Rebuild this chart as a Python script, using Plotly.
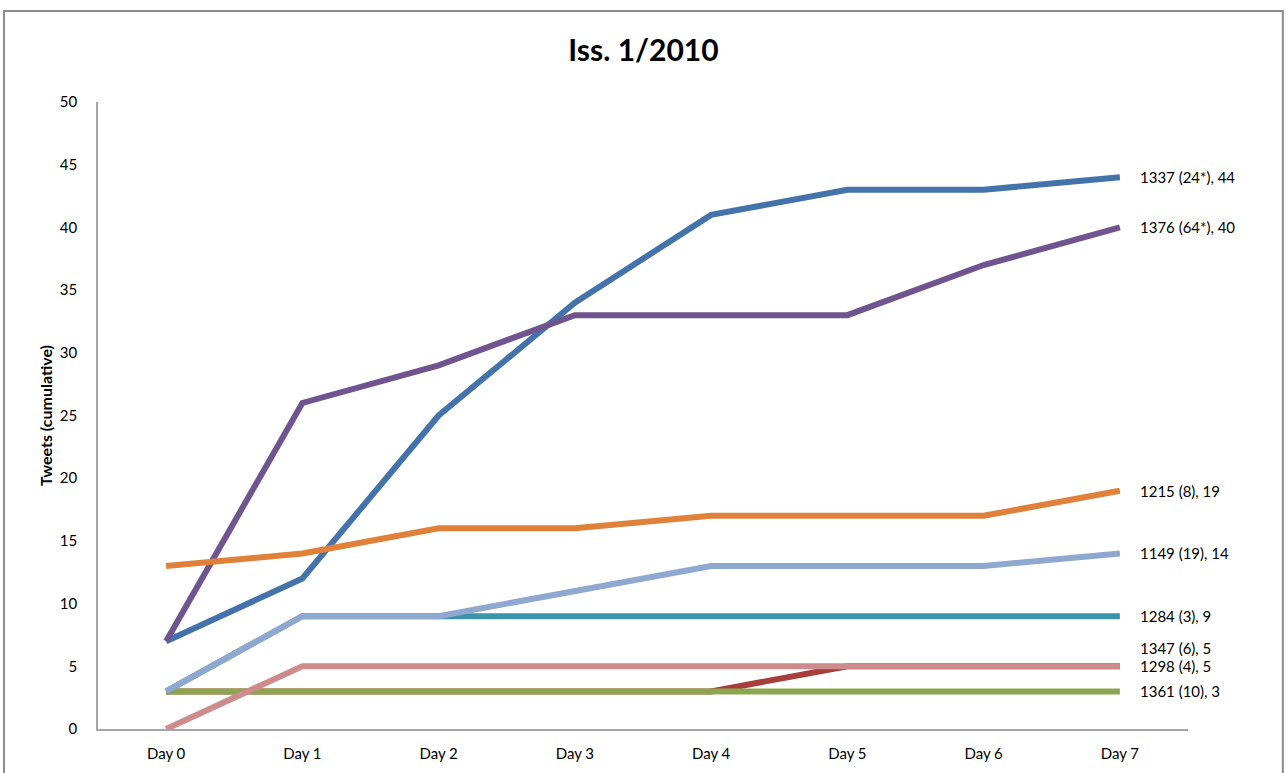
import plotly.graph_objects as go

# categories and series (cumulative tweets per day)
DAYS = ['Day 0', 'Day 1', 'Day 2', 'Day 3', 'Day 4', 'Day 5', 'Day 6', 'Day 7']

TWEETS_1337 = [7, 12, 25, 34, 41, 43, 43, 44]
TWEETS_1347 = [3, 3, 3, 3, 3, 5, 5, 5]
TWEETS_1361 = [3, 3, 3, 3, 3, 3, 3, 3]
TWEETS_1376 = [7, 26, 29, 33, 33, 33, 37, 40]
TWEETS_1284 = [3, 9, 9, 9, 9, 9, 9, 9]
TWEETS_1215 = [13, 14, 16, 16, 17, 17, 17, 19]
TWEETS_1149 = [3, 9, 9, 11, 13, 13, 13, 14]
TWEETS_1298 = [0, 5, 5, 5, 5, 5, 5, 5]

LABELS = ['1337 (24*), 44', '1347 (6), 5', '1361 (10), 3', '1376 (64*), 40',
          '1284 (3), 9', '1215 (8), 19', '1149 (19), 14', '1298 (4), 5']
SERIES = [TWEETS_1337, TWEETS_1347, TWEETS_1361, TWEETS_1376,
          TWEETS_1284, TWEETS_1215, TWEETS_1149, TWEETS_1298]
COLORS = ['#4472AA', '#A63E3B', '#8BA64C', '#70548F',
          '#3B94AA', '#E0813A', '#8FA8CF', '#CE8B8B']
# small vertical nudges (px) so the end labels don't collide
LABEL_SHIFT = [0, 18, 0, 0, 0, 0, 0, 0]

FONT = 'Lato, Open Sans, sans-serif'

fig = go.Figure()
for name, vals, col in zip(LABELS, SERIES, COLORS):
    fig.add_trace(go.Scatter(x=DAYS, y=vals, mode='lines', name=name,
                             line=dict(color=col, width=6),
                             showlegend=False))

# labels at the end of each line
for name, vals, shift in zip(LABELS, SERIES, LABEL_SHIFT):
    fig.add_annotation(x=DAYS[-1], y=vals[-1], text=name, showarrow=False,
                       xanchor='left', xshift=18, yshift=shift,
                       font=dict(size=15, color='black', family=FONT))

# outer chart border
fig.add_shape(type='rect', xref='paper', yref='paper',
              x0=-0.0862, x1=1.087, y0=-0.09, y1=1.145,
              line=dict(color='#8c8c8c', width=2))

fig.update_layout(
    width=1287, height=773,
    margin=dict(l=98, r=99, t=102, b=44),
    paper_bgcolor='white', plot_bgcolor='white',
    font=dict(family=FONT, size=14, color='black'),
    title=dict(text='<b>Iss. 1/2010</b>', x=0.5, xanchor='center',
               y=1 - 50 / 773, yanchor='middle',
               font=dict(size=30, family=FONT, color='black')),
    xaxis=dict(range=[-0.5, 7.5], showgrid=False, zeroline=False,
               showline=True, linecolor='#a6a6a6', linewidth=1.5,
               ticks='', tickfont=dict(size=15), ticklabelstandoff=10,
               automargin=False),
    yaxis=dict(range=[0, 50], dtick=5, showgrid=False, zeroline=False,
               showline=True, linecolor='#a6a6a6', linewidth=1.5,
               ticks='', tickfont=dict(size=15), ticklabelstandoff=16,
               automargin=False,
               title=dict(text='<b>Tweets (cumulative)</b>', standoff=3,
                          font=dict(size=16))),
)

# drop the page's default body margin so the chart sits at the window origin
fig.write_html('out.html', config={'displayModeBar': False},
               post_script="document.body.style.margin='0';")
